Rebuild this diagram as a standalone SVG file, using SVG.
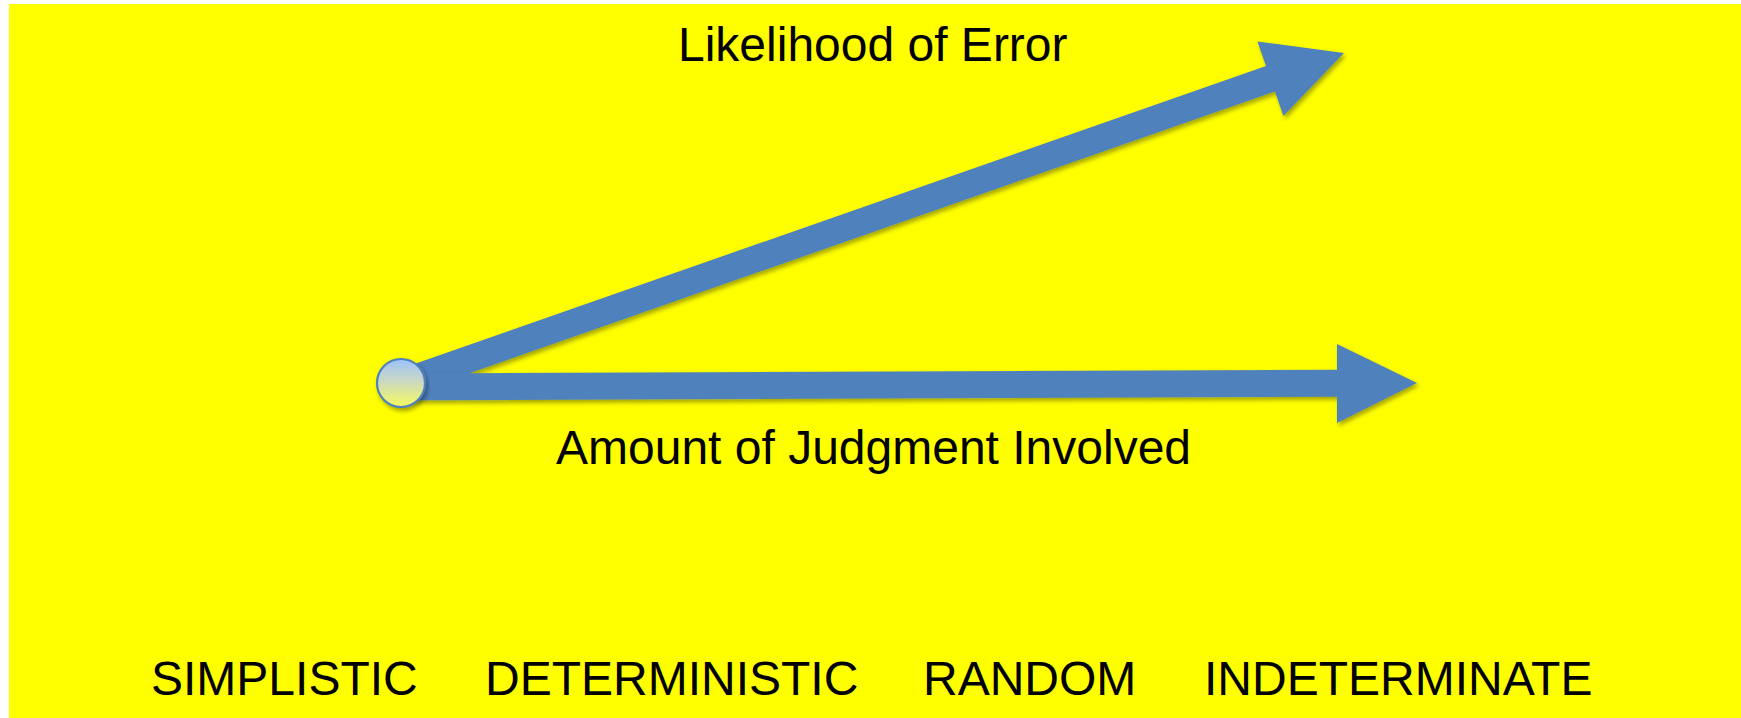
<svg xmlns="http://www.w3.org/2000/svg" width="1741" height="718" viewBox="0 0 1741 718">
<defs>
<style>
.lbl{font-family:"Liberation Sans",Arial,sans-serif;font-size:48px;fill:#000}
.arrow{fill:#4f81bd;filter:url(#sh)}
</style>
<filter id="sh" x="-10%" y="-30%" width="120%" height="160%">
<feDropShadow dx="2" dy="3" stdDeviation="2.2" flood-color="#000" flood-opacity="0.35"/>
</filter>
<linearGradient id="cg" x1="0" y1="0" x2="0" y2="1">
<stop offset="0" stop-color="#9cc2fb"/>
<stop offset="0.45" stop-color="#c9d8c4"/>
<stop offset="1" stop-color="#f7fa5e"/>
</linearGradient>
</defs>
<rect x="9" y="4" width="1732" height="714" fill="#ffff00"/>
<g id="connectors">
<polygon class="arrow" points="396.5,370.3 1266,66 1257.4,41.4 1344,53 1283.4,116 1274.9,91.4 405.5,395.7"/>
<polygon class="arrow" points="401,373.5 1337,369.8 1337,344 1417,383 1337,423 1337,396.8 401,400.5"/>
</g>
<g id="origin">
<circle cx="401" cy="383" r="24" fill="url(#cg)" stroke="#4f81bd" stroke-width="2.2" filter="url(#sh)"/>
</g>
<g id="label-error">
<text class="lbl" x="678" y="61">Likelihood of Error</text>
</g>
<g id="label-judgment">
<text class="lbl" x="556" y="464">Amount of Judgment Involved</text>
</g>
<g id="scale">
<text class="lbl" x="151" y="695">SIMPLISTIC</text>
<text class="lbl" x="485" y="695">DETERMINISTIC</text>
<text class="lbl" x="923" y="695">RANDOM</text>
<text class="lbl" x="1204" y="695">INDETERMINATE</text>
</g>
</svg>
